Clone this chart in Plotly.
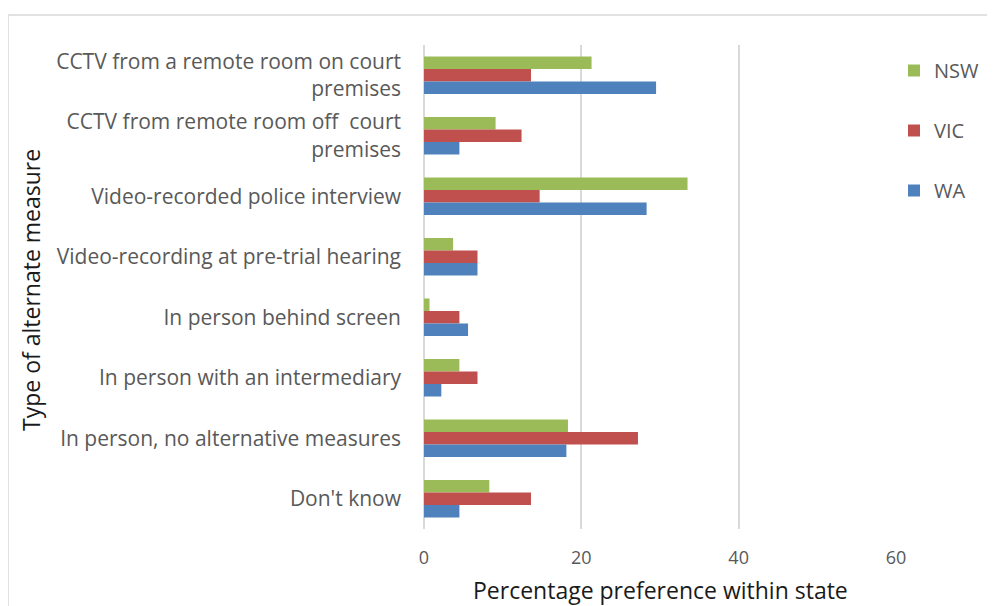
import plotly.graph_objects as go

categories = [
    "CCTV from a remote room on court<br>premises",
    "CCTV from remote room off  court<br>premises",
    "Video-recorded police interview",
    "Video-recording at pre-trial hearing",
    "In person behind screen",
    "In person with an intermediary",
    "In person, no alternative measures",
    "Don't know",
]
wa = [29.5, 4.5, 28.3, 6.8, 5.6, 2.2, 18.1, 4.5]
vic = [13.6, 12.4, 14.7, 6.8, 4.5, 6.8, 27.2, 13.6]
nsw = [21.3, 9.1, 33.5, 3.7, 0.7, 4.5, 18.3, 8.3]
tick_vals = [0, 20, 40, 60]

OFF = 8  # page body margin
W, H = 995, 606
L, T = 424 - OFF, 45 - OFF
pw, ph = 472, 484
R, B = W - L - pw, H - T - ph

font = "Open Sans"
fig = go.Figure()
for name, vals, col in [("NSW", nsw, "#9bbb59"), ("VIC", vic, "#c0504d"), ("WA", wa, "#4f81bd")]:
    fig.add_trace(go.Bar(y=categories, x=vals, name=name, orientation="h",
                         marker=dict(color=col, line=dict(width=0)), legendgroup=name))

def px2paper_x(p):
    return (p - OFF - L) / pw

def px2paper_y(p):
    return 1 - (p - OFF - T) / ph

fig.add_shape(type="rect", xref="paper", yref="paper",
              x0=px2paper_x(8), x1=px2paper_x(1010), y0=px2paper_y(620), y1=px2paper_y(15),
              line=dict(color="#d9d9d9", width=1.5), fillcolor="rgba(0,0,0,0)", layer="below")

fig.add_annotation(text="Type of alternate measure", xref="paper", yref="paper",
                   x=px2paper_x(31), y=px2paper_y(290), textangle=-90, showarrow=False,
                   xanchor="center", yanchor="middle",
                   font=dict(family=font, size=23, color="#1a1a1a"))
fig.add_annotation(text="Percentage preference within state", xref="paper", yref="paper",
                   x=px2paper_x(660), y=px2paper_y(590), showarrow=False,
                   xanchor="center", yanchor="middle",
                   font=dict(family=font, size=23, color="#1a1a1a"))

fig.update_layout(
    width=W, height=H,
    margin=dict(l=L, r=R, t=T, b=B, autoexpand=False),
    paper_bgcolor="white", plot_bgcolor="white",
    barmode="group", bargap=0.38, bargroupgap=0,
    font=dict(family=font, color="#595959", size=18),
    showlegend=True,
    legend=dict(traceorder="grouped", x=px2paper_x(894), xanchor="left",
                y=px2paper_y(51), yanchor="top",
                font=dict(family=font, size=20, color="#595959"), tracegroupgap=31,
                itemwidth=30, bgcolor="rgba(0,0,0,0)"),
    xaxis=dict(range=[0, 60], tickvals=tick_vals, showgrid=True, gridcolor="#d9d9d9", gridwidth=2,
               zeroline=True, zerolinecolor="#d9d9d9", zerolinewidth=2, showline=False,
               ticks="", ticklabelstandoff=16,
               tickfont=dict(family=font, size=18, color="#595959")),
    yaxis=dict(autorange="reversed", showgrid=False, ticks="", ticklabelstandoff=22,
               tickfont=dict(family=font, size=21, color="#595959")),
)
fig.write_html("out.html")
